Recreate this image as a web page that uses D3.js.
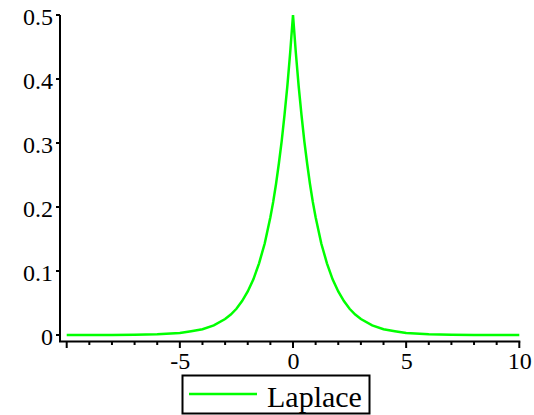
<!DOCTYPE html>
<html>
<head>
<meta charset="utf-8">
<script src="https://cdn.jsdelivr.net/npm/d3@7"></script>
</head>
<body style="margin:0">
<script>
// values
var xValues = [-10, -9, -8, -7, -6, -5, -4.5, -4, -3.5, -3, -2.75, -2.5, -2.25, -2, -1.75, -1.5, -1.25,
  -1, -0.875, -0.75, -0.625, -0.5, -0.375, -0.25, -0.125, 0,
  0.125, 0.25, 0.375, 0.5, 0.625, 0.75, 0.875, 1,
  1.25, 1.5, 1.75, 2, 2.25, 2.5, 2.75, 3, 3.5, 4, 4.5, 5, 6, 7, 8, 9, 10];
var yValues = [0.000, 0.000, 0.000, 0.0005, 0.001, 0.003, 0.006, 0.009, 0.015, 0.025, 0.032, 0.041, 0.053, 0.068, 0.087, 0.112, 0.143,
  0.184, 0.208, 0.236, 0.268, 0.303, 0.344, 0.389, 0.441, 0.5,
  0.441, 0.389, 0.344, 0.303, 0.268, 0.236, 0.208, 0.184,
  0.143, 0.112, 0.087, 0.068, 0.053, 0.041, 0.032, 0.025, 0.015, 0.009, 0.006, 0.003, 0.001, 0.0005, 0.000, 0.000, 0.000];
var seriesName = "Laplace";
var xTickValues = [-10, -5, 0, 5, 10];
var xTickLabels = ["", "-5", "0", "5", "10"];
var yTickValues = [0, 0.1, 0.2, 0.3, 0.4, 0.5];
var yTickLabels = ["0", "0.1", "0.2", "0.3", "0.4", "0.5"];

var width = 534, height = 415;
var axisX = 60, axisY = 341.5;
var green = "#00ff00";
var font = "'Liberation Serif'";

var svg = d3.select("body").append("svg")
    .attr("width", width)
    .attr("height", height)
    .style("display", "block");

var xScale = d3.scaleLinear().domain([-10, 10]).range([66.7, 519.3]);
var yScale = d3.scaleLinear().domain([0, 0.5]).range([335, 15]);

// y axis
svg.append("line")
    .attr("x1", axisX).attr("x2", axisX)
    .attr("y1", yScale(0.5)).attr("y2", axisY)
    .style("stroke", "#000").style("stroke-width", 2);

svg.selectAll(".ytick").data(yTickValues).enter()
    .append("line")
    .attr("x1", axisX - 4).attr("x2", axisX)
    .attr("y1", function (d) { return yScale(d); })
    .attr("y2", function (d) { return yScale(d); })
    .style("stroke", "#000").style("stroke-width", 2);

svg.selectAll(".ylabel").data(yTickValues).enter()
    .append("text")
    .attr("x", axisX - 7)
    .attr("y", function (d) { return yScale(d) + 9.5; })
    .attr("text-anchor", "end")
    .attr("font-family", font)
    .attr("font-size", 24)
    .text(function (d, i) { return yTickLabels[i]; });

// x axis
svg.append("line")
    .attr("x1", axisX - 1).attr("x2", xScale(10) + 1)
    .attr("y1", axisY).attr("y2", axisY)
    .style("stroke", "#000").style("stroke-width", 2);

var minorTicks = d3.range(-10, 11, 1);
svg.selectAll(".xtick").data(minorTicks).enter()
    .append("line")
    .attr("x1", function (d) { return xScale(d); })
    .attr("x2", function (d) { return xScale(d); })
    .attr("y1", axisY)
    .attr("y2", function (d) { return d % 5 === 0 ? axisY + 6.5 : axisY + 3.5; })
    .style("stroke", "#000").style("stroke-width", 2);

svg.selectAll(".xlabel").data(xTickValues).enter()
    .append("text")
    .attr("x", function (d) { return xScale(d) + 0.5; })
    .attr("y", 368.5)
    .attr("text-anchor", "middle")
    .attr("font-family", font)
    .attr("font-size", 24)
    .text(function (d, i) { return xTickLabels[i]; });

// curve
var points = xValues.map(function (x, i) { return [x, yValues[i]]; });
var line = d3.line()
    .x(function (d) { return xScale(d[0]); })
    .y(function (d) { return yScale(d[1]); });

svg.append("path")
    .datum(points)
    .attr("d", line)
    .style("fill", "none")
    .style("stroke", green)
    .style("stroke-width", 2.5)
    .style("stroke-linejoin", "miter");

// legend
var legend = svg.append("g");
legend.append("rect")
    .attr("x", 182.5).attr("y", 375.5)
    .attr("width", 187).attr("height", 38)
    .style("fill", "#fff")
    .style("stroke", "#000").style("stroke-width", 2);
legend.append("line")
    .attr("x1", 189).attr("x2", 257)
    .attr("y1", 394).attr("y2", 394)
    .style("stroke", green).style("stroke-width", 2.5);
legend.append("text")
    .attr("x", 267)
    .attr("y", 406.5)
    .attr("font-family", font)
    .attr("font-size", 30)
    .text(seriesName);
</script>
</body>
</html>
